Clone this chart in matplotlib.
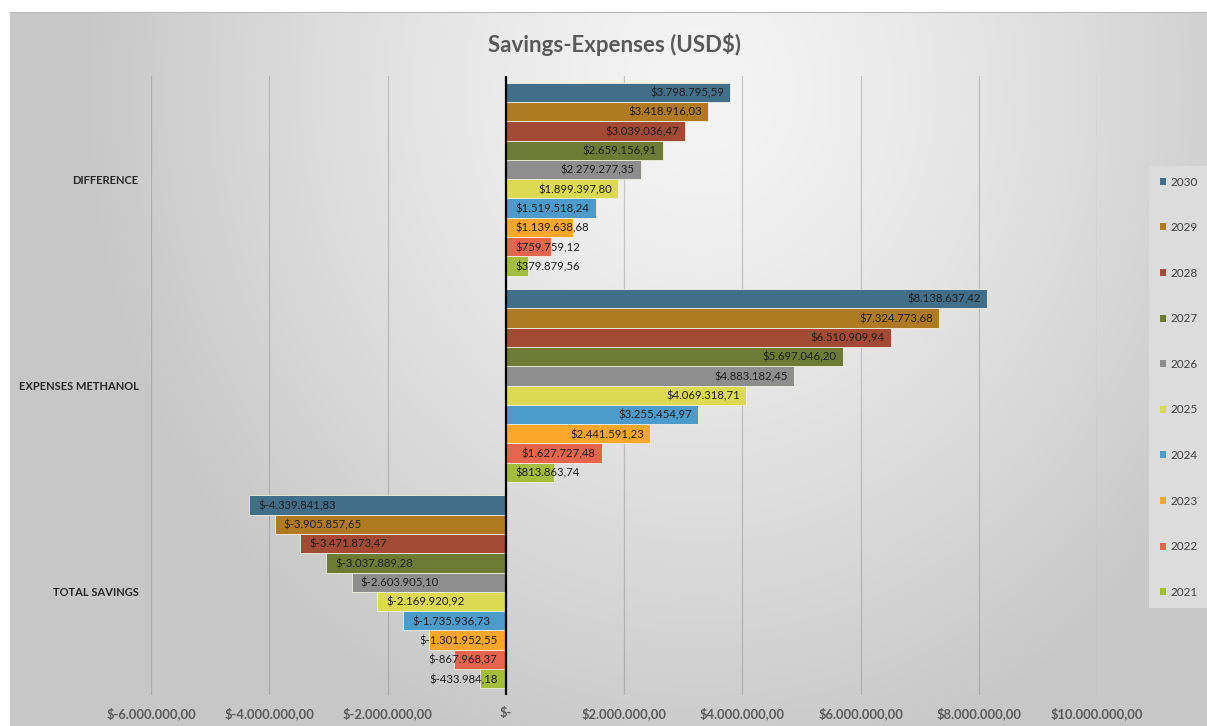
import matplotlib.pyplot as plt
import numpy as np
from matplotlib.patches import Patch

plt.rcParams['font.family'] = ['Lato', 'DejaVu Sans']

categories = ['TOTAL SAVINGS', 'EXPENSES METHANOL', 'DIFFERENCE']
years = ['2021', '2022', '2023', '2024', '2025', '2026', '2027', '2028', '2029', '2030']

# one list per year: TOTAL SAVINGS, EXPENSES METHANOL, DIFFERENCE
values = {
    '2021': [-433984.18, 813863.74, 379879.56],
    '2022': [-867968.37, 1627727.48, 759759.12],
    '2023': [-1301952.55, 2441591.23, 1139638.68],
    '2024': [-1735936.73, 3255454.97, 1519518.24],
    '2025': [-2169920.92, 4069318.71, 1899397.80],
    '2026': [-2603905.10, 4883182.45, 2279277.35],
    '2027': [-3037889.28, 5697046.20, 2659156.91],
    '2028': [-3471873.47, 6510909.94, 3039036.47],
    '2029': [-3905857.65, 7324773.68, 3418916.03],
    '2030': [-4339841.83, 8138637.42, 3798795.59],
}
colors = ['#a4be3c', '#e6654c', '#fda72a', '#4c9bcb', '#dcda52',
          '#8e8e8e', '#6e7b35', '#a24a33', '#b07a21', '#416e88']
x_ticks = [-6e6, -4e6, -2e6, 0, 2e6, 4e6, 6e6, 8e6, 10e6]


def money(v):
    if v == 0:
        return '$-'
    s = f'{abs(v):,.2f}'.replace(',', 'X').replace('.', ',').replace('X', '.')
    return ('$-' if v < 0 else '$') + s


W, H = 1207, 726
fig = plt.figure(figsize=(W / 100, H / 100), dpi=100)

# soft grey radial background behind the chart area
bg = fig.add_axes([0, 0, 1, 1], zorder=-5)
yy, xx = np.mgrid[0:H, 0:W]
d = np.sqrt(((xx - 700) / 620.0) ** 2 + ((yy - 90) / 700.0) ** 2)
shade = 245 - 46 * np.clip(d, 0, 1) ** 1.3
img = np.dstack([shade, shade, shade]) / 255.0
img[:12, :, :] = 1.0
img[:, :10, :] = 1.0
bg.imshow(img, extent=(0, W, H, 0), aspect='auto', interpolation='bilinear')
bg.plot([10, W], [12, 12], color='#b8b8b8', lw=0.8)
bg.set_xlim(0, W)
bg.set_ylim(H, 0)
bg.axis('off')

ax = fig.add_axes([151 / W, 1 - 695 / H, (1097 - 151) / W, (695 - 76) / H])
ax.patch.set_alpha(0)

y = np.arange(len(categories))
h = 0.0936
for i, year in enumerate(years):
    pos = y + (i - 4.5) * h
    vals = values[year]
    ax.barh(pos, vals, height=h, color=colors[i], edgecolor='#f4f0e4',
            linewidth=0.6, zorder=3)
    for p, v in zip(pos, vals):
        if abs(v) > 1.35e6:
            off, ha, x0 = (-4.5, 'right', v) if v > 0 else (6.5, 'left', v)
        else:
            off, ha, x0 = (7, 'left', 0) if v > 0 else (-6, 'right', 0)
        ax.annotate(money(v), (x0, p), xytext=(off, -0.5), textcoords='offset points',
                    ha=ha, va='center', fontsize=8.2, color='#1e1e1e', zorder=5)

ax.axvline(0, color='black', lw=1.6, zorder=4)
ax.set_xlim(-6e6, 10e6)
ax.set_ylim(-0.5, 2.5)
ax.set_xticks(x_ticks)
ax.set_xticklabels([money(t) for t in x_ticks], fontsize=9.3, fontweight='bold',
                   color='#5a5a5a')
ax.set_yticks(y)
ax.set_yticklabels(categories, fontsize=8, fontweight='bold', color='#262626')
ax.tick_params(axis='x', length=0, pad=9)
ax.tick_params(axis='y', length=0, pad=9)
ax.grid(axis='x', color='#777777', alpha=0.35, lw=0.9, zorder=0)
for s in ax.spines.values():
    s.set_visible(False)

fig.text(615 / W, 1 - 45 / H, 'Savings-Expenses (USD$)', ha='center', va='center',
         fontsize=16, fontweight='bold', color='#595959')

handles = [Patch(facecolor=colors[i]) for i in range(len(years) - 1, -1, -1)]
leg = fig.legend(handles, years[::-1], loc='upper left',
                 bbox_to_anchor=(1143 / W, 1 - 160 / H), fontsize=8.5,
                 handlelength=0.55, handleheight=0.55, handletextpad=0.4,
                 labelspacing=2.93, borderpad=0.9, frameon=True, fancybox=False,
                 facecolor='#dcdcdc', edgecolor='none', framealpha=1)
for t in leg.get_texts():
    t.set_color('#404040')

plt.savefig('out.png', dpi=100)
